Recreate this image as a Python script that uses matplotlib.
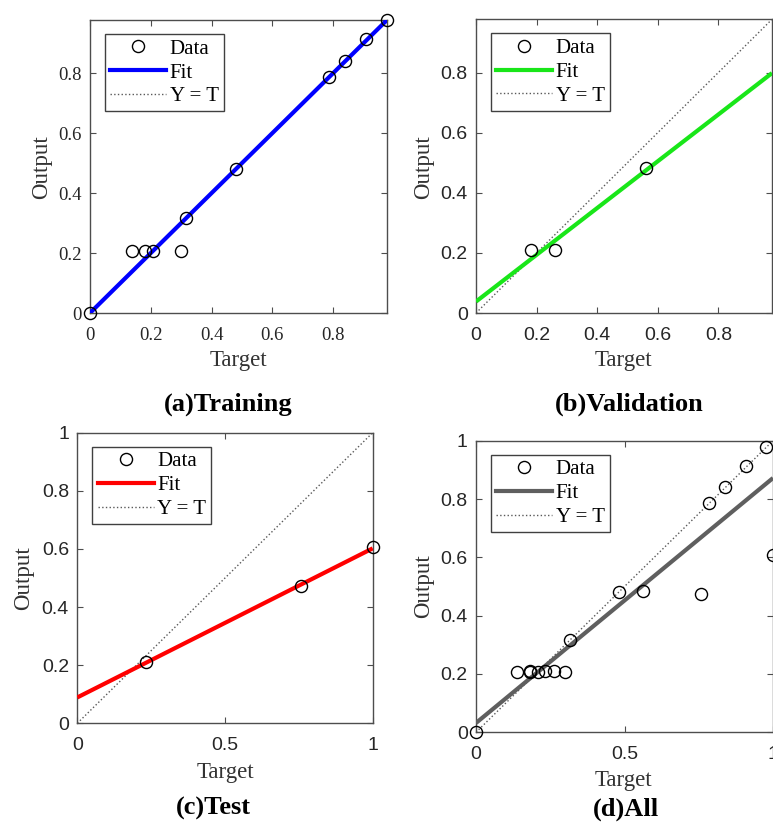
import numpy as np
import matplotlib
matplotlib.use('Agg')
import matplotlib.pyplot as plt
from matplotlib.lines import Line2D

# ---------------- data ----------------
train_target = [0.0, 0.138, 0.182, 0.208, 0.300, 0.315, 0.481, 0.786, 0.840, 0.909, 0.976]
train_output = [0.0, 0.207, 0.207, 0.207, 0.207, 0.316, 0.481, 0.787, 0.840, 0.912, 0.978]
val_target = [0.181, 0.261, 0.562]
val_output = [0.210, 0.210, 0.484]
test_target = [0.231, 0.756, 1.0]
test_output = [0.210, 0.473, 0.607]
all_target = train_target + val_target + test_target
all_output = train_output + val_output + test_output

fit_slope = [1.0, 0.778, 0.513, 0.84]
fit_intercept = [0.0, 0.038, 0.089, 0.032]
axis_max = [0.977, 0.977, 1.0, 1.0]
panel_titles = ['(a)Training', '(b)Validation', '(c)Test', '(d)All']
xtick_vals = [[0, 0.2, 0.4, 0.6, 0.8], [0, 0.2, 0.4, 0.6, 0.8], [0, 0.5, 1], [0, 0.5, 1]]
xtick_labels = [['0', '0.2', '0.4', '0.6', '0.8'], ['0', '0.2', '0.4', '0.6', '0.8'],
                ['0', '0.5', '1'], ['0', '0.5', '1']]
ytick_vals = [[0, 0.2, 0.4, 0.6, 0.8], [0, 0.2, 0.4, 0.6, 0.8],
              [0, 0.2, 0.4, 0.6, 0.8, 1], [0, 0.2, 0.4, 0.6, 0.8, 1]]
ytick_labels = [['0', '0.2', '0.4', '0.6', '0.8'], ['0', '0.2', '0.4', '0.6', '0.8'],
                ['0', '0.2', '0.4', '0.6', '0.8', '1'], ['0', '0.2', '0.4', '0.6', '0.8', '1']]
legend_labels = ['Data', 'Fit', 'Y = T']

# ---------------- style / layout ----------------
W, H = 773, 822
SERIF = 'Liberation Serif'
SANS = 'Liberation Sans'
fit_colors = ['#0000ff', '#19e619', '#ff0000', '#5f5f5f']
tick_fonts = [SERIF, SANS, SANS, SANS]
tick_sizes = [13.5, 14, 14, 14]
# axes boxes in pixels: left, right, top, bottom
boxes = [(90, 387, 20, 313), (476, 772, 19.3, 313), (77.3, 372.7, 432.7, 723.3), (476, 773, 440.7, 732.3)]
xlabel_pos = [(238, 360), (623, 360), (225, 772), (623, 780)]
ylabel_pos = [(42, 167), (424, 167), (24, 578), (424, 586)]
title_pos = [(228, 404), (629, 404), (213, 808), (626, 809)]

datasets = [(train_target, train_output), (val_target, val_output),
            (test_target, test_output), (all_target, all_output)]

fig = plt.figure(figsize=(W / 100, H / 100), dpi=100)
spine_col = '0.3'
text_col = '#262626'

for i in range(4):
    l, r, t, b = boxes[i]
    ax = fig.add_axes([l / W, (H - b) / H, (r - l) / W, (b - t) / H])
    tgt, out = datasets[i]
    m = axis_max[i]
    xs = np.array([0.0, m])
    ax.plot(xs, xs, linestyle=':', color='0.35', lw=1.0, zorder=2)
    ax.plot(xs, fit_slope[i] * xs + fit_intercept[i], color=fit_colors[i], lw=3, zorder=3,
            solid_capstyle='butt')
    ax.plot(tgt, out, linestyle='none', marker='o', ms=8.7, mfc='none', mec='black',
            mew=1.0, zorder=4, clip_on=False)
    ax.set_xlim(0, m)
    ax.set_ylim(0, m)
    ax.set_xticks(xtick_vals[i])
    ax.set_xticklabels(xtick_labels[i])
    ax.set_yticks(ytick_vals[i])
    ax.set_yticklabels(ytick_labels[i])
    ax.tick_params(axis='both', direction='in', length=4, width=0.8, top=True, right=True,
                   color=spine_col, labelcolor=text_col, labelsize=tick_sizes[i])
    ax.tick_params(axis='x', pad=10)
    ax.tick_params(axis='y', pad=6)
    for lab in ax.get_xticklabels() + ax.get_yticklabels():
        lab.set_fontfamily(tick_fonts[i])
    for s in ax.spines.values():
        s.set_color(spine_col)
        s.set_linewidth(1.0)

    ax.set_xlabel('Target', fontfamily=SERIF, fontsize=16.5, color='#333333', va='center')
    ax.xaxis.set_label_coords((xlabel_pos[i][0] - l) / (r - l), (b - xlabel_pos[i][1]) / (b - t))
    ax.set_ylabel('Output', fontfamily=SERIF, fontsize=16.5, color='#333333', va='center')
    ax.yaxis.set_label_coords((ylabel_pos[i][0] - l) / (r - l), (b - ylabel_pos[i][1]) / (b - t))

    handles = [Line2D([], [], linestyle='none', marker='o', ms=8.7, mfc='none', mec='black', mew=1.0),
               Line2D([], [], color=fit_colors[i], lw=3),
               Line2D([], [], linestyle=':', color='0.35', lw=1.0)]
    off_x = 15 / (r - l)
    off_y = 14 / (b - t)
    leg = ax.legend(handles, legend_labels, loc='upper left', bbox_to_anchor=(off_x, 1 - off_y),
                    borderaxespad=0, prop={'family': SERIF, 'size': 15}, frameon=True,
                    fancybox=False, framealpha=1, edgecolor='0.25', handlelength=2.7,
                    handletextpad=0.15, labelspacing=0.2, borderpad=0.25)
    leg.get_frame().set_linewidth(1.0)
    for txt in leg.get_texts():
        txt.set_color('black')

    fig.text(title_pos[i][0] / W, 1 - title_pos[i][1] / H, panel_titles[i], fontfamily=SERIF,
             fontweight='bold', fontsize=19, ha='center', va='center', color='black')

fig.savefig('out.png', dpi=100)
